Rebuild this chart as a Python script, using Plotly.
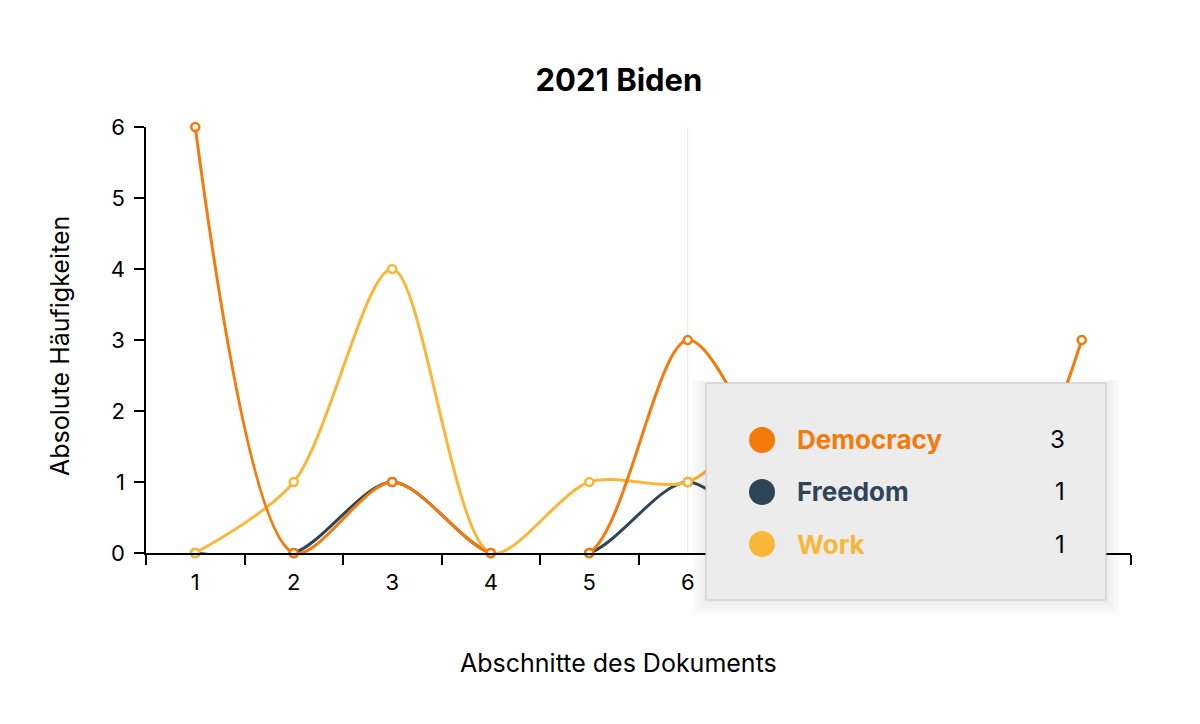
import plotly.graph_objects as go

# Abschnitte 1..10
abschnitte = ["1", "2", "3", "4", "5", "6", "7", "8", "9", "10"]
democracy = [6, 0, 1, 0, 0, 3, 1, 0, 0, 3]
freedom = [0, 0, 1, 0, 0, 1, 0, 0, 0, 0]
work = [0, 1, 4, 0, 1, 1, 2, 1, 0, 0]

# hover state shown in the reference
hover_idx = 5
serien = [("Democracy", democracy, "#F47A0B"),
          ("Freedom", freedom, "#2E4559"),
          ("Work", work, "#F9B73A")]

fig = go.Figure()
for name, vals, col in [serien[1], serien[2], serien[0]]:
    fig.add_trace(
        go.Scatter(
            x=abschnitte,
            y=vals,
            name=name,
            mode="lines+markers",
            line=dict(color=col, width=3, shape="spline", smoothing=0.85),
            marker=dict(symbol="circle", size=8, color="white",
                        line=dict(color=col, width=2.5)),
            cliponaxis=False,
        )
    )

font = "Inter, 'Noto Sans', sans-serif"
# page body has an 8px margin, so the figure is a bit smaller than the window
fig.update_layout(
    width=1184, height=708,
    paper_bgcolor="white", plot_bgcolor="white",
    showlegend=False,
    margin=dict(l=138, r=61, t=119, b=163),
    font=dict(family=font, color="black", size=22),
    title=dict(text="<b>2021 Biden</b>", x=0.516, xanchor="center",
               y=0.898, yanchor="middle", font=dict(size=31)),
)
fig.update_xaxes(
    type="category", range=[-0.5, len(abschnitte) - 0.5],
    tickson="boundaries", ticks="outside", ticklen=10,
    tickwidth=1.5, tickcolor="black", showline=True, linecolor="black",
    linewidth=1.5, showgrid=False, zeroline=False, automargin=False,
    tickfont=dict(size=22), ticklabelstandoff=9,
)
fig.update_yaxes(
    range=[0, 6], dtick=1, ticks="outside", ticklen=10, tickwidth=1.5,
    tickcolor="black", showline=True, linecolor="black", linewidth=1.5,
    showgrid=False, zeroline=False, automargin=False,
    tickfont=dict(size=22), ticklabelstandoff=5,
)

# axis titles (centred like in the original page, not on the plot area)
fig.add_annotation(xref="paper", yref="paper", x=0.48, y=-0.258,
                   xanchor="center", yanchor="middle", showarrow=False,
                   text="Abschnitte des Dokuments", font=dict(size=25))
fig.add_annotation(xref="paper", yref="paper", x=-0.0873, y=0.486,
                   xanchor="center", yanchor="middle", showarrow=False,
                   textangle=-90, text="Absolute Häufigkeiten",
                   font=dict(size=25))

# hover crosshair
xp = (hover_idx + 0.5) / len(abschnitte)
fig.add_shape(type="line", xref="paper", yref="paper", x0=xp, x1=xp,
              y0=0, y1=1, line=dict(color="#E3E3E3", width=1), layer="below")

# tooltip box with soft shadow
bx0, bx1, by0, by1 = 0.5685, 0.9746, -0.1103, 0.399
for i in range(6):
    d = 0.0025 * (i + 1)
    fig.add_shape(type="rect", xref="paper", yref="paper",
                  x0=bx0 - d, x1=bx1 + d, y0=by0 - 2.5 * d, y1=by1 + 0.5 * d,
                  fillcolor="rgba(0,0,0,0.012)", line=dict(width=0))
fig.add_shape(type="rect", xref="paper", yref="paper",
              x0=bx0, x1=bx1, y0=by0, y1=by1,
              fillcolor="#ECECEC", line=dict(color="#C8C8C8", width=1))

rows_y = [0.2653, 0.1432, 0.0211]
for (name, vals, col), ry in zip(serien, rows_y):
    fig.add_shape(type="circle", xref="paper", yref="paper",
                  xsizemode="pixel", ysizemode="pixel",
                  xanchor=0.6254, yanchor=ry, x0=-13, x1=13, y0=-13, y1=13,
                  fillcolor=col, line=dict(width=0))
    fig.add_annotation(xref="paper", yref="paper", x=0.6589, y=ry,
                       xanchor="left", yanchor="middle", showarrow=False,
                       text="<b>%s</b>" % name,
                       font=dict(size=26, color=col, family=font))
    fig.add_annotation(xref="paper", yref="paper", x=0.935, y=ry,
                       xanchor="right", yanchor="middle", showarrow=False,
                       text=str(vals[hover_idx]),
                       font=dict(size=24, color="black", family=font))

fig.write_html("out.html")
